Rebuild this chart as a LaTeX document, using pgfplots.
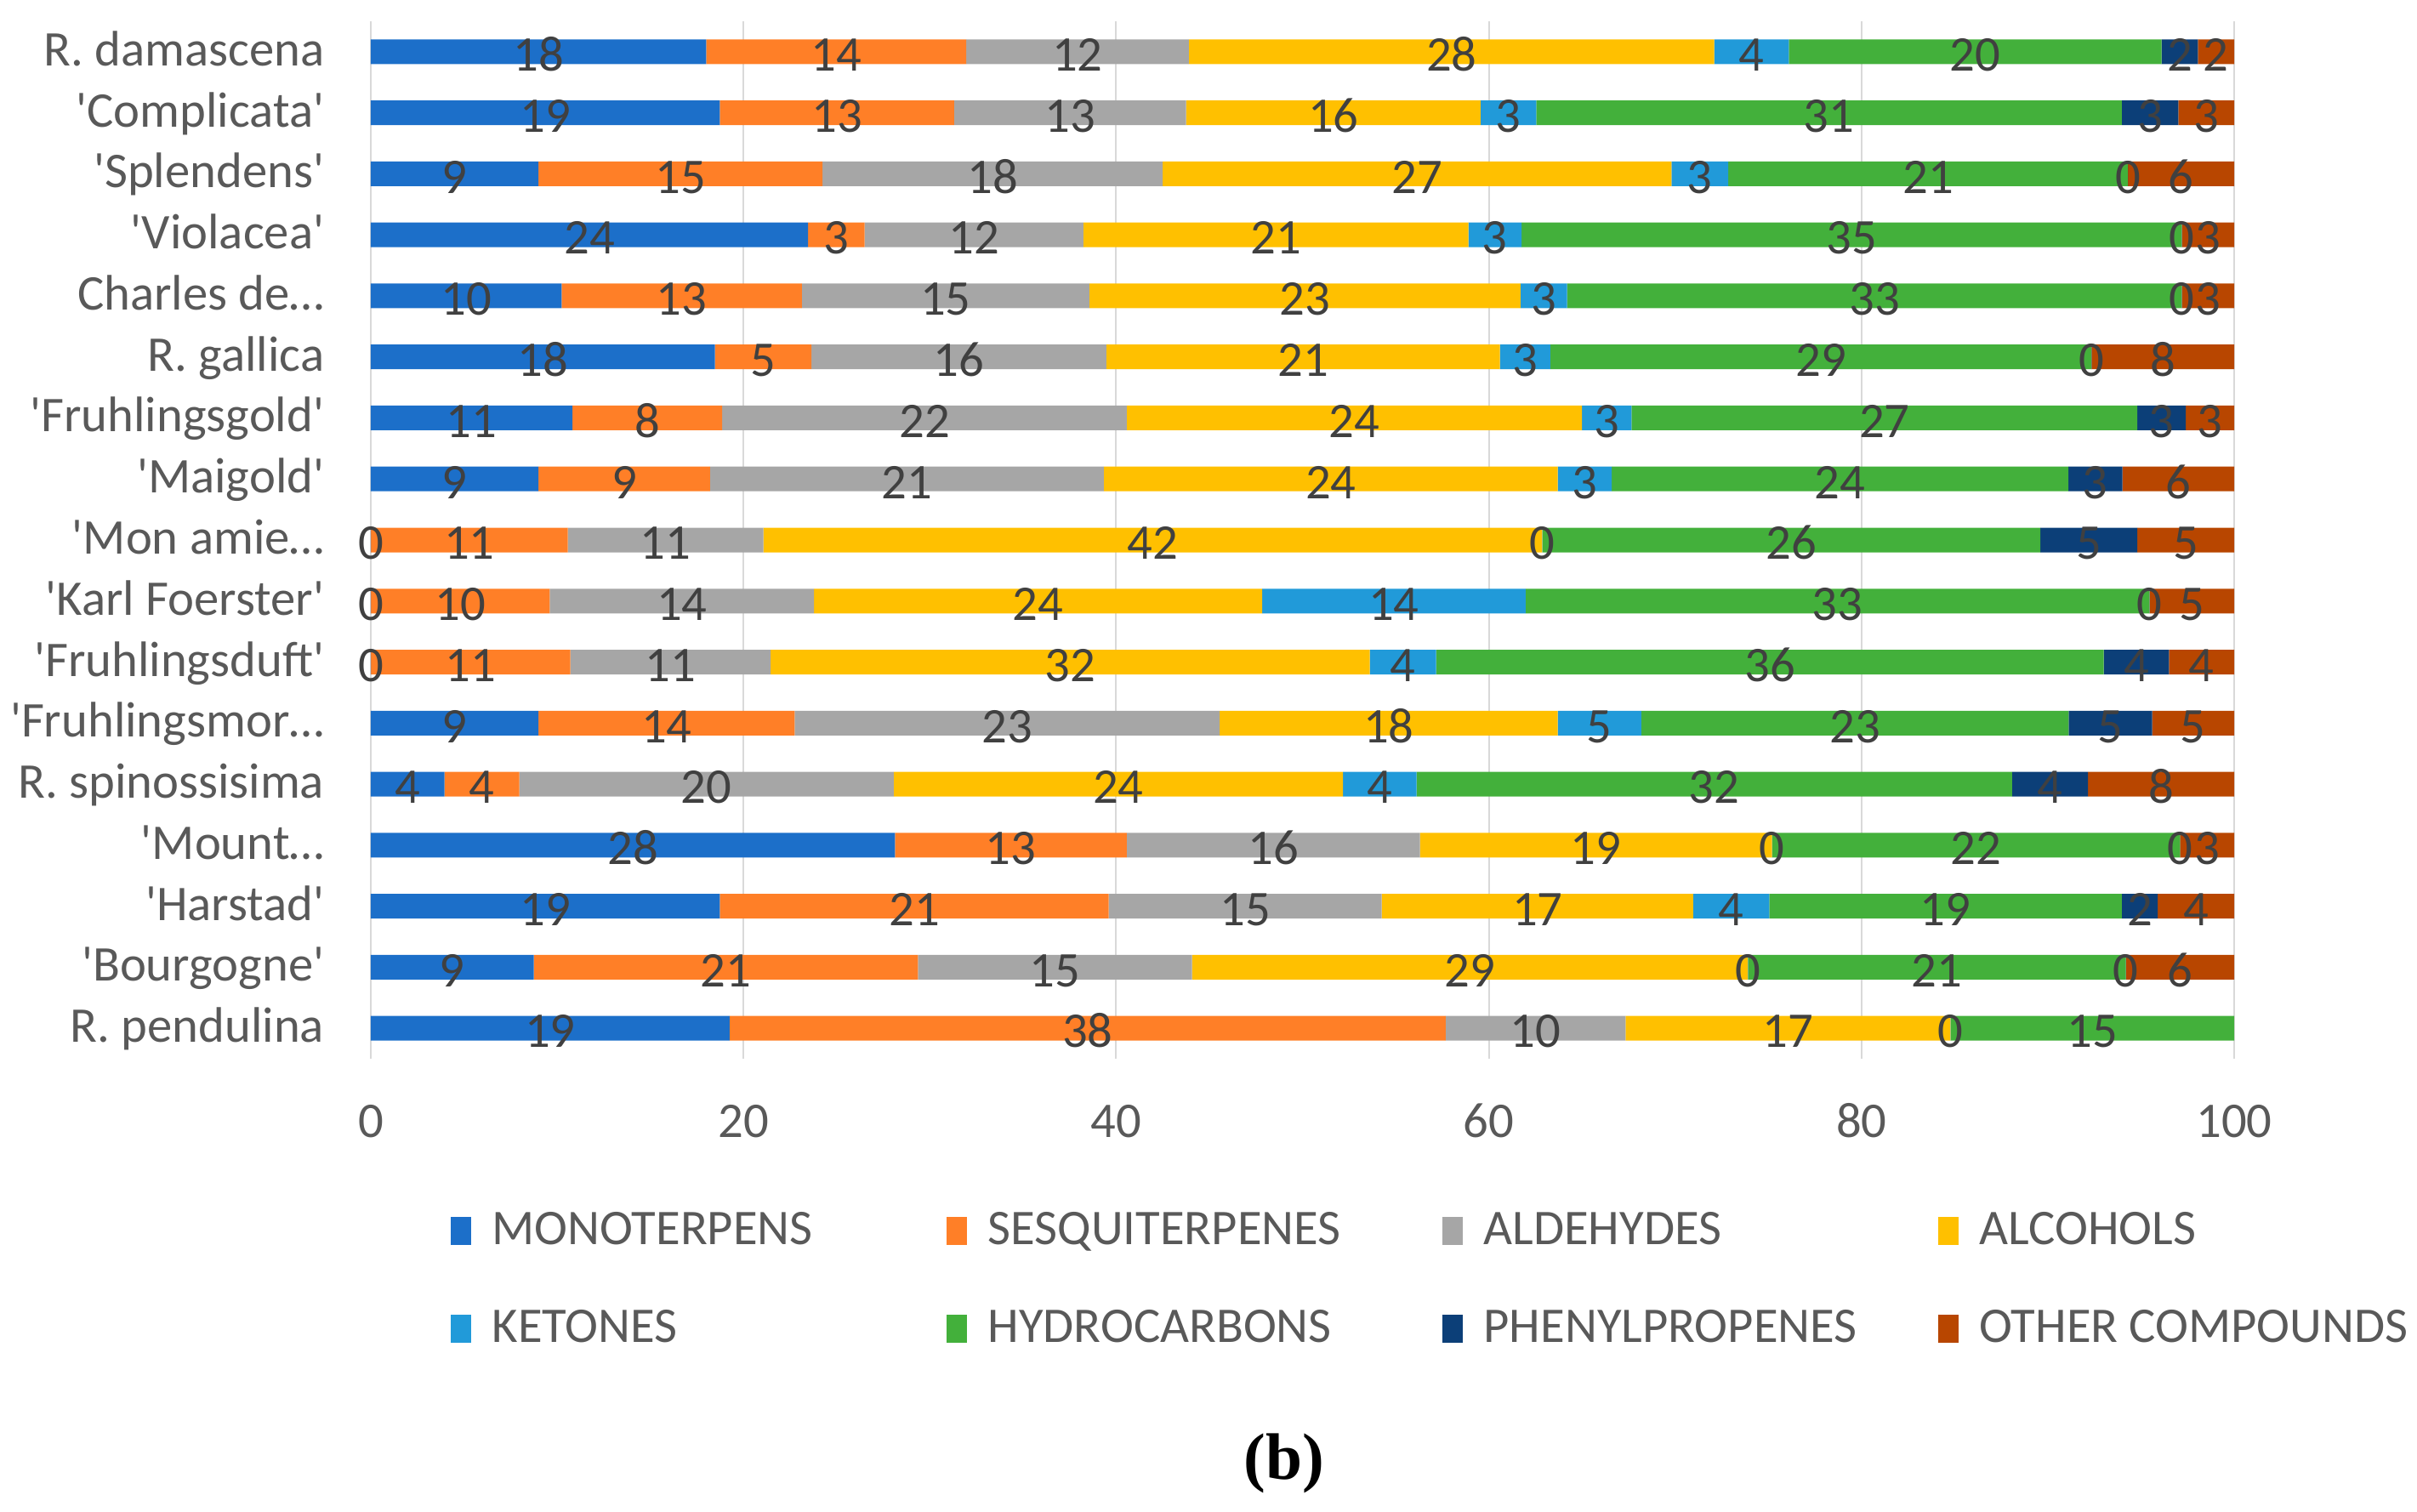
\documentclass[border=0pt]{standalone}
\usepackage{fontspec}
\setmainfont{Carlito}
\newfontfamily\capfont{Liberation Serif}
\usepackage{pgfplots}
\usepackage{pgfplotstable}
\pgfplotsset{compat=1.18}
\definecolor{cMono}{HTML}{1C6FC9}
\definecolor{cSesq}{HTML}{FF7F27}
\definecolor{cAld}{HTML}{A6A6A6}
\definecolor{cAlc}{HTML}{FFC000}
\definecolor{cKet}{HTML}{219AD9}
\definecolor{cHyd}{HTML}{43B03B}
\definecolor{cPhe}{HTML}{0C3F78}
\definecolor{cOth}{HTML}{B84600}
\definecolor{cGrid}{HTML}{D9D9D9}
\definecolor{cTick}{HTML}{595959}
\definecolor{cLab}{HTML}{404040}
\newcommand{\sq}{\textquotesingle}
\newcommand{\fs}{\fontsize{16.7}{20}\selectfont}
% widths (share of the 100% bar) and printed labels, bottom row first
% (0.01 marks a zero share that still carries a "0" label)
\pgfplotstableread{
idx w1 w2 w3 w4 w5 w6 w7 w8 l1 l2 l3 l4 l5 l6 l7 l8
0 19.25 38.43 9.66 17.43 0.01 15.22 0 0 19 38 10 17 0 15 {} {}
1 8.75 20.61 14.71 29.83 0.01 20.28 0.01 5.8 9 21 15 29 0 21 0 6
2 18.73 20.87 14.65 16.72 4.08 18.92 1.93 4.1 19 21 15 17 4 19 2 4
3 28.13 12.44 15.73 18.9 0.01 21.88 0.01 2.9 28 13 16 19 0 22 0 3
4 3.95 4.02 20.09 24.11 3.95 31.96 4.08 7.84 4 4 20 24 4 32 4 8
5 9.0 13.75 22.81 18.14 4.48 22.94 4.48 4.4 9 14 23 18 5 23 5 5
6 0.01 10.7 10.75 32.15 3.56 35.83 3.5 3.5 0 11 11 32 4 36 4 4
7 0.01 9.59 14.19 24.05 14.13 33.48 0.01 4.54 0 10 14 24 14 33 0 5
8 0.01 10.56 10.5 41.8 0.01 26.72 5.2 5.2 0 11 11 42 0 26 5 5
9 9.0 9.2 21.14 24.36 2.9 24.5 2.9 6.0 9 9 21 24 3 24 3 6
10 10.82 8.04 21.71 24.43 2.66 27.14 2.6 2.6 11 8 22 24 3 27 3 3
11 18.47 5.18 15.82 21.13 2.7 29.04 0.01 7.65 18 5 16 21 3 29 0 8
12 10.24 12.9 15.42 23.14 2.5 32.99 0.01 2.8 10 13 15 23 3 33 0 3
13 23.46 3.04 11.74 20.66 2.86 35.43 0.01 2.8 24 3 12 21 3 35 0 3
14 9.0 15.24 18.26 27.3 3.05 21.44 0.01 5.7 9 15 18 27 3 21 0 6
15 18.73 12.57 12.45 15.81 2.98 31.43 3.03 3.0 19 13 13 16 3 31 3 3
16 18.0 13.95 11.95 28.2 4.0 20.0 1.95 1.95 18 14 12 28 4 20 2 2
}\data
\newcommand{\series}[3]{%
  \addplot[draw=none, fill=#2]
    table[x=w#1, y=idx, meta=l#1]{\data};
  \addlegendentry{\makebox[53.4mm][l]{#3}}%
}
\begin{document}
\begin{tikzpicture}
\useasboundingbox (-4.36cm,-5.32cm) rectangle (24.06cm,12.45cm);
\begin{axis}[
  at={(0,0)}, anchor=south west,
  scale only axis, width=21.91cm, height=12.2cm,
  xbar stacked, bar width=2.9mm,
  xmin=0, xmax=100, ymin=-0.5, ymax=16.5,
  xtick={0,20,40,60,80,100}, ytick={0,1,...,16},
  yticklabels={R. pendulina, {\sq Bourgogne\sq}, {\sq Harstad\sq}, {\sq Mount…}, R. spinossisima,
    {\sq Fruhlingsmor…}, {\sq Fruhlingsduft\sq}, {\sq Karl Foerster\sq}, {\sq Mon amie…},
    {\sq Maigold\sq}, {\sq Fruhlingsgold\sq}, R. gallica, Charles de…, {\sq Violacea\sq},
    {\sq Splendens\sq}, {\sq Complicata\sq}, R. damascena},
  axis line style={draw=none},
  major tick length=0pt,
  xmajorgrids, major grid style={draw=cGrid, line width=0.2mm},
  tick label style={font=\fs, text=cTick, inner sep=0pt},
  xticklabel style={anchor=base, yshift=-9.2mm},
  yticklabel style={anchor=base east, xshift=-5.4mm, yshift=-1.65mm},
  /pgf/number format/assume math mode=true,
  point meta=explicit symbolic,
  nodes near coords={\pgfplotspointmeta},
  every node near coord/.append style={font=\fs, text=cLab, anchor=base,
    inner sep=0pt, yshift=-2.28mm},
  legend columns=4,
  legend cell align=left,
  legend image code/.code={\fill[#1] (0mm,-1.65mm) rectangle (2.4mm,1.65mm);},
  legend style={draw=none, fill=none, inner sep=0pt,
    at={(0.0424,-0.1475)}, anchor=north west,
    font=\fs, text=cTick,
    nodes={inner sep=0pt},
    /tikz/every odd column/.append style={column sep=2.5mm},
    row sep=7.15mm},
]
\series{1}{cMono}{MONOTERPENS}
\series{2}{cSesq}{SESQUITERPENES}
\series{3}{cAld}{ALDEHYDES}
\series{4}{cAlc}{ALCOHOLS}
\series{5}{cKet}{KETONES}
\series{6}{cHyd}{HYDROCARBONS}
\series{7}{cPhe}{PHENYLPROPENES}
\series{8}{cOth}{OTHER COMPOUNDS}
\end{axis}
\node[font=\capfont\fontsize{22}{26}\selectfont\bfseries, anchor=center] at (10.74cm,-4.76cm) {(b)};
\end{tikzpicture}
\end{document}
